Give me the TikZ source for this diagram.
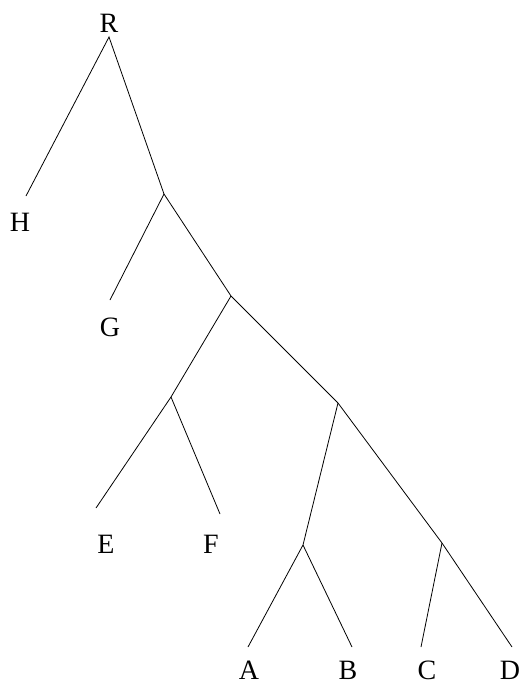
\documentclass[tikz,border=0pt]{standalone}
\usepackage{fontspec}
\setmainfont{Liberation Serif}
\begin{document}
\begin{tikzpicture}[x=1pt,y=-1pt,
  branch/.style={line width=0.8pt, black},
  leaf/.style={font=\fontsize{28}{32}\selectfont, inner sep=0pt}]
\useasboundingbox (0,0) rectangle (522,685);
% labels
\node[leaf] (Rl) at (109,23) {R};
\node[leaf] (Hl) at (20,222) {H};
\node[leaf] (Gl) at (110,327) {G};
\node[leaf] (El) at (106,544) {E};
\node[leaf] (Fl) at (211,544) {F};
\node[leaf] (Al) at (249,670) {A};
\node[leaf] (Bl) at (348,670) {B};
\node[leaf] (Cl) at (427,670) {C};
\node[leaf] (Dl) at (510,670) {D};
% branch points
\coordinate (r) at (109,37);
\coordinate (n1) at (164,194);
\coordinate (n2) at (231,296);
\coordinate (n3) at (171,397);
\coordinate (n4) at (338,403);
\coordinate (n5) at (303,545);
\coordinate (n6) at (442,543);
% leaf tips
\coordinate (h) at (26,196);
\coordinate (g) at (110,300);
\coordinate (e) at (96,508);
\coordinate (f) at (220,514);
\coordinate (a) at (248,647);
\coordinate (b) at (352,647);
\coordinate (c) at (421,647);
\coordinate (d) at (512,647);
% tree
\draw[branch] (h) -- (r) -- (n1) -- (n2) -- (n4) -- (n6) -- (d);
\draw[branch] (g) -- (n1);
\draw[branch] (n2) -- (n3) -- (e);
\draw[branch] (n3) -- (f);
\draw[branch] (n4) -- (n5) -- (a);
\draw[branch] (n5) -- (b);
\draw[branch] (n6) -- (c);
\end{tikzpicture}
\end{document}
